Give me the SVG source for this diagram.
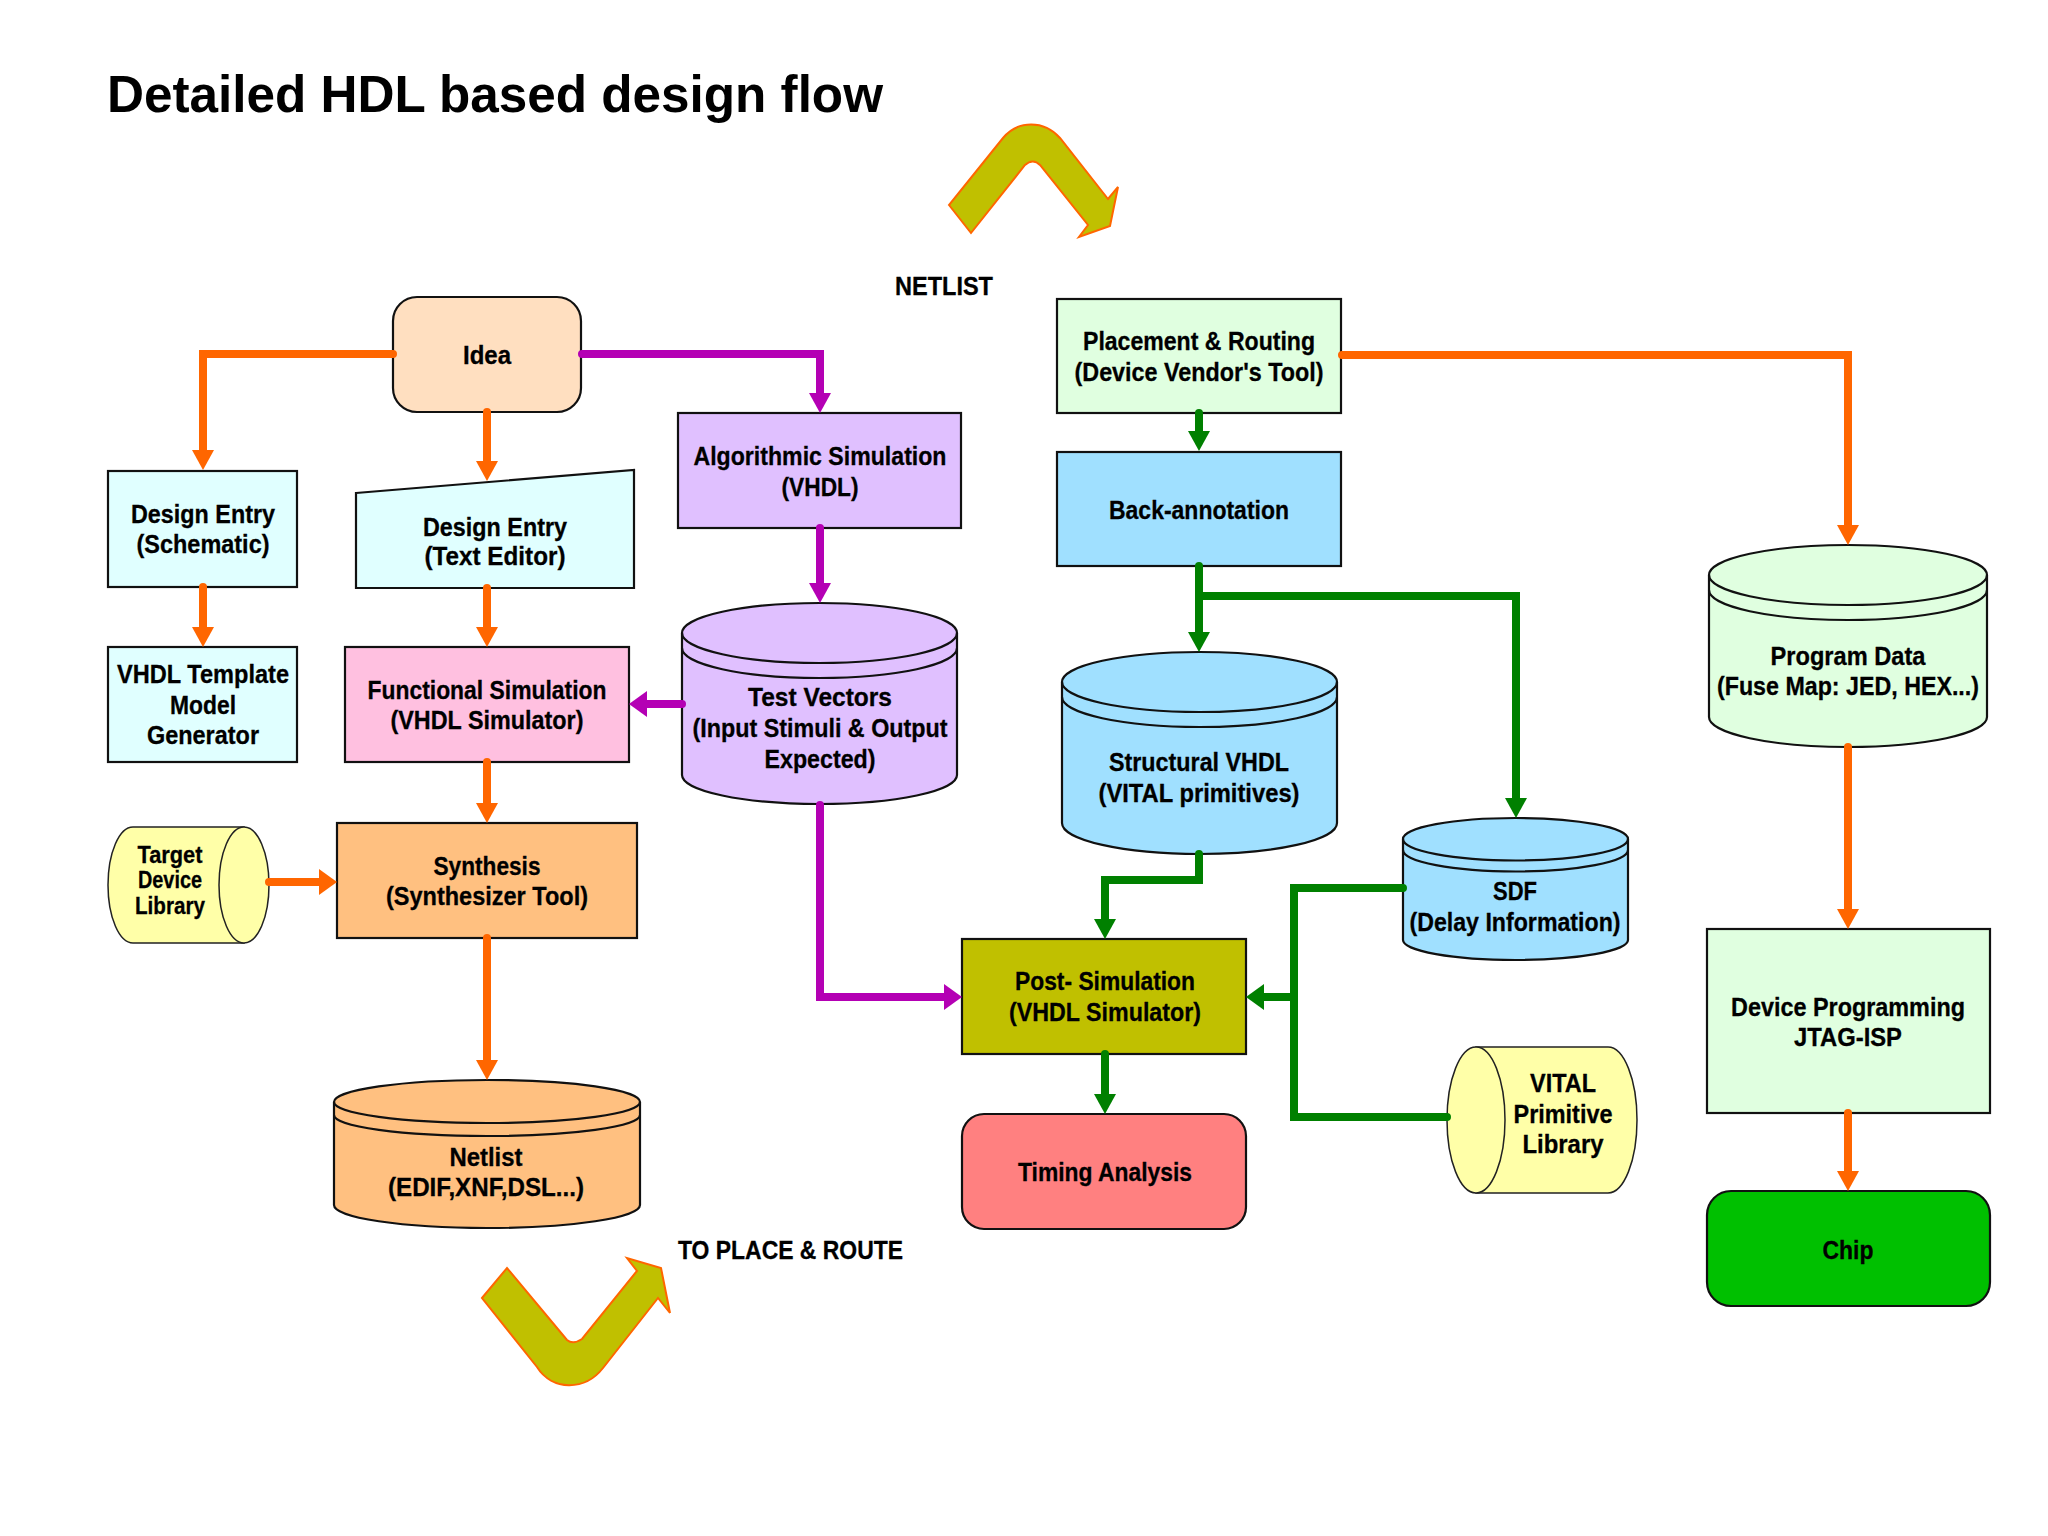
<svg xmlns="http://www.w3.org/2000/svg" width="2048" height="1536" viewBox="0 0 2048 1536">
<style>
text{font-family:"Liberation Sans",Arial,sans-serif;font-weight:700;font-size:26px;fill:#000;stroke:#000;stroke-width:.3px;text-anchor:middle}
.s{font-size:24px}
.t{font-size:52px;text-anchor:start;stroke:none}
.l{text-anchor:start}
.n{stroke:#111;stroke-width:2.2px}
.h{stroke:#222;stroke-width:1.5px}
.e{fill:none}
.c path{fill:none;stroke-width:8px;stroke-linecap:round;stroke-linejoin:miter}
.or{stroke:#ff6600;marker-end:url(#ao)}
.pu{stroke:#b400b4;marker-end:url(#ap)}
.gr{stroke:#008000;marker-end:url(#ag)}
.orh{stroke:#ff6600;marker-end:url(#aoh)}
.puh{stroke:#b400b4;marker-end:url(#aph)}
.grh{stroke:#008000;marker-end:url(#agh)}
.bend{fill:#c0c000;stroke:#ff6600;stroke-width:2px;stroke-linejoin:miter}
</style>
<defs>
<marker id="ao" markerUnits="userSpaceOnUse" markerWidth="20" markerHeight="22" viewBox="0 0 20 22" refX="2" refY="11" orient="auto"><path d="M0,0L20,11L0,22z" fill="#ff6600"/></marker>
<marker id="ap" markerUnits="userSpaceOnUse" markerWidth="20" markerHeight="22" viewBox="0 0 20 22" refX="2" refY="11" orient="auto"><path d="M0,0L20,11L0,22z" fill="#b400b4"/></marker>
<marker id="ag" markerUnits="userSpaceOnUse" markerWidth="20" markerHeight="22" viewBox="0 0 20 22" refX="2" refY="11" orient="auto"><path d="M0,0L20,11L0,22z" fill="#008000"/></marker>
<marker id="aoh" markerUnits="userSpaceOnUse" markerWidth="18" markerHeight="26" viewBox="0 0 18 26" refX="2" refY="13" orient="auto"><path d="M0,0L18,13L0,26z" fill="#ff6600"/></marker>
<marker id="aph" markerUnits="userSpaceOnUse" markerWidth="18" markerHeight="26" viewBox="0 0 18 26" refX="2" refY="13" orient="auto"><path d="M0,0L18,13L0,26z" fill="#b400b4"/></marker>
<marker id="agh" markerUnits="userSpaceOnUse" markerWidth="18" markerHeight="26" viewBox="0 0 18 26" refX="2" refY="13" orient="auto"><path d="M0,0L18,13L0,26z" fill="#008000"/></marker>
</defs>
<rect width="2048" height="1536" fill="#fff"/>
<text class="t" x="107" y="112" textLength="776" lengthAdjust="spacingAndGlyphs">Detailed HDL based design flow</text>
<text x="944" y="295" textLength="98" lengthAdjust="spacingAndGlyphs">NETLIST</text>
<text class="l" x="678" y="1259" textLength="225" lengthAdjust="spacingAndGlyphs">TO PLACE &amp; ROUTE</text>

<g id="arrow-top"><path class="bend" d="M949,205L971,233L1025,165Q1033,158 1040,165L1088,225L1079,237L1110,226L1118,187L1108,199L1060,138C1044,120 1018,120 1003,138z"/></g>
<g id="arrow-bottom"><path class="bend" d="M482,1298L507,1268L567,1340Q573,1345 582,1339L637,1271L627,1258L661,1268L670,1313L658,1298L603,1368C585,1391 552,1391 537,1367z"/></g>

<g id="idea"><rect class="n" x="393" y="297" width="188" height="115" rx="24" fill="#ffdfc0"/><text x="487" y="364" textLength="48" lengthAdjust="spacingAndGlyphs">Idea</text></g>
<g id="entry-schematic"><rect class="n" x="108" y="471" width="189" height="116" fill="#e0ffff"/><text x="203" y="523" textLength="144" lengthAdjust="spacingAndGlyphs">Design Entry</text><text x="203" y="553" textLength="133" lengthAdjust="spacingAndGlyphs">(Schematic)</text></g>
<g id="vhdl-template"><rect class="n" x="108" y="647" width="189" height="115" fill="#e0ffff"/><text x="203" y="683" textLength="172" lengthAdjust="spacingAndGlyphs">VHDL Template</text><text x="203" y="714" textLength="66" lengthAdjust="spacingAndGlyphs">Model</text><text x="203" y="744" textLength="112" lengthAdjust="spacingAndGlyphs">Generator</text></g>
<g id="entry-text"><path class="n" d="M356,493L634,470V588H356z" fill="#e0ffff"/><text x="495" y="536" textLength="144" lengthAdjust="spacingAndGlyphs">Design Entry</text><text x="495" y="565" textLength="141" lengthAdjust="spacingAndGlyphs">(Text Editor)</text></g>
<g id="functional-sim"><rect class="n" x="345" y="647" width="284" height="115" fill="#ffc0e0"/><text x="487" y="699" textLength="239" lengthAdjust="spacingAndGlyphs">Functional Simulation</text><text x="487" y="729" textLength="193" lengthAdjust="spacingAndGlyphs">(VHDL Simulator)</text></g>
<g id="algorithmic-sim"><rect class="n" x="678" y="413" width="283" height="115" fill="#e0c0ff"/><text x="820" y="465" textLength="253" lengthAdjust="spacingAndGlyphs">Algorithmic Simulation</text><text x="820" y="496" textLength="77" lengthAdjust="spacingAndGlyphs">(VHDL)</text></g>
<g id="test-vectors"><path class="n" d="M682,633A137.500,30 0 0 1 957,633V775A137.500,29 0 0 1 682,775z" fill="#e0c0ff"/><path class="n e" d="M682,633A137.500,30 0 0 0 957,633M682,648A137.500,30 0 0 0 957,648"/><text x="820" y="706" textLength="144" lengthAdjust="spacingAndGlyphs">Test Vectors</text><text x="820" y="737" textLength="255" lengthAdjust="spacingAndGlyphs">(Input Stimuli &amp; Output</text><text x="820" y="768" textLength="111" lengthAdjust="spacingAndGlyphs">Expected)</text></g>
<g id="synthesis"><rect class="n" x="337" y="823" width="300" height="115" fill="#ffc080"/><text x="487" y="875" textLength="107" lengthAdjust="spacingAndGlyphs">Synthesis</text><text x="487" y="905" textLength="202" lengthAdjust="spacingAndGlyphs">(Synthesizer Tool)</text></g>
<g id="target-library"><path class="h" d="M244,827H133A25,58 0 0 0 133,943H244z" fill="#ffffa8"/><ellipse class="h" cx="244" cy="885" rx="25" ry="58" fill="#ffffa8"/><text class="s" x="170" y="863" textLength="65" lengthAdjust="spacingAndGlyphs">Target</text><text class="s" x="170" y="888" textLength="64" lengthAdjust="spacingAndGlyphs">Device</text><text class="s" x="170" y="914" textLength="70" lengthAdjust="spacingAndGlyphs">Library</text></g>
<g id="netlist"><path class="n" d="M334,1102A153,22 0 0 1 640,1102V1205A153,23 0 0 1 334,1205z" fill="#ffc080"/><path class="n e" d="M334,1102A153,21 0 0 0 640,1102M334,1115A153,21 0 0 0 640,1115"/><text x="486" y="1166" textLength="73" lengthAdjust="spacingAndGlyphs">Netlist</text><text x="486" y="1196" textLength="196" lengthAdjust="spacingAndGlyphs">(EDIF,XNF,DSL...)</text></g>
<g id="post-sim"><rect class="n" x="962" y="939" width="284" height="115" fill="#c0c000"/><text x="1105" y="990" textLength="180" lengthAdjust="spacingAndGlyphs">Post- Simulation</text><text x="1105" y="1021" textLength="192" lengthAdjust="spacingAndGlyphs">(VHDL Simulator)</text></g>
<g id="timing"><rect class="n" x="962" y="1114" width="284" height="115" rx="22" fill="#ff8080"/><text x="1105" y="1181" textLength="174" lengthAdjust="spacingAndGlyphs">Timing Analysis</text></g>
<g id="placement"><rect class="n" x="1057" y="299" width="284" height="114" fill="#e0ffe0"/><text x="1199" y="350" textLength="232" lengthAdjust="spacingAndGlyphs">Placement &amp; Routing</text><text x="1199" y="381" textLength="249" lengthAdjust="spacingAndGlyphs">(Device Vendor's Tool)</text></g>
<g id="back-annotation"><rect class="n" x="1057" y="452" width="284" height="114" fill="#a0e0ff"/><text x="1199" y="519" textLength="180" lengthAdjust="spacingAndGlyphs">Back-annotation</text></g>
<g id="structural"><path class="n" d="M1062,682A137.500,30 0 0 1 1337,682V823A137.500,31 0 0 1 1062,823z" fill="#a0e0ff"/><path class="n e" d="M1062,682A137.500,30 0 0 0 1337,682M1062,697A137.500,30 0 0 0 1337,697"/><text x="1199" y="771" textLength="180" lengthAdjust="spacingAndGlyphs">Structural VHDL</text><text x="1199" y="802" textLength="201" lengthAdjust="spacingAndGlyphs">(VITAL primitives)</text></g>
<g id="sdf"><path class="n" d="M1403,839A112.500,21 0 0 1 1628,839V940A112.500,20 0 0 1 1403,940z" fill="#a0e0ff"/><path class="n e" d="M1403,839A112.500,21.500 0 0 0 1628,839M1403,850A112.500,21.500 0 0 0 1628,850"/><text x="1515" y="900" textLength="44" lengthAdjust="spacingAndGlyphs">SDF</text><text x="1515" y="931" textLength="211" lengthAdjust="spacingAndGlyphs">(Delay Information)</text></g>
<g id="vital-library"><path class="h" d="M1476,1047H1608A29,73 0 0 1 1608,1193H1476z" fill="#ffffa8"/><ellipse class="h" cx="1476" cy="1120" rx="29" ry="73" fill="#ffffa8"/><text x="1563" y="1092" textLength="66" lengthAdjust="spacingAndGlyphs">VITAL</text><text x="1563" y="1123" textLength="99" lengthAdjust="spacingAndGlyphs">Primitive</text><text x="1563" y="1153" textLength="81" lengthAdjust="spacingAndGlyphs">Library</text></g>
<g id="program-data"><path class="n" d="M1709,575A139,30 0 0 1 1987,575V717A139,30 0 0 1 1709,717z" fill="#e0ffe0"/><path class="n e" d="M1709,575A139,30 0 0 0 1987,575M1709,590A139,30 0 0 0 1987,590"/><text x="1848" y="665" textLength="155" lengthAdjust="spacingAndGlyphs">Program Data</text><text x="1848" y="695" textLength="262" lengthAdjust="spacingAndGlyphs">(Fuse Map: JED, HEX...)</text></g>
<g id="device-programming"><rect class="n" x="1707" y="929" width="283" height="184" fill="#e0ffe0"/><text x="1848" y="1016" textLength="234" lengthAdjust="spacingAndGlyphs">Device Programming</text><text x="1848" y="1046" textLength="108" lengthAdjust="spacingAndGlyphs">JTAG-ISP</text></g>
<g id="chip"><rect class="n" x="1707" y="1191" width="283" height="115" rx="24" fill="#00c000"/><text x="1848" y="1259" textLength="51" lengthAdjust="spacingAndGlyphs">Chip</text></g>

<g id="connectors" class="c">
<path class="or" d="M393,354H203V452"/>
<path class="or" d="M487,412V463"/>
<path class="or" d="M203,587V629"/>
<path class="or" d="M487,588V629"/>
<path class="or" d="M487,762V805"/>
<path class="orh" d="M269,882H321"/>
<path class="or" d="M487,938V1062"/>
<path class="or" d="M1342,355H1848V527"/>
<path class="or" d="M1848,747V911"/>
<path class="or" d="M1848,1113V1173"/>
<path class="pu" d="M582,354H820V395"/>
<path class="pu" d="M820,528V585"/>
<path class="puh" d="M682,704H645"/>
<path class="puh" d="M820,805V997H946"/>
<path class="gr" d="M1199,413V433"/>
<path class="gr" d="M1199,566V634"/>
<path class="gr" d="M1199,596H1516V800"/>
<path class="gr" d="M1199,854V880H1105V921"/>
<path stroke="#008000" d="M1403,888H1294V1117H1447"/>
<path class="grh" d="M1294,997H1262"/>
<path class="gr" d="M1105,1054V1096"/>
</g>
</svg>
